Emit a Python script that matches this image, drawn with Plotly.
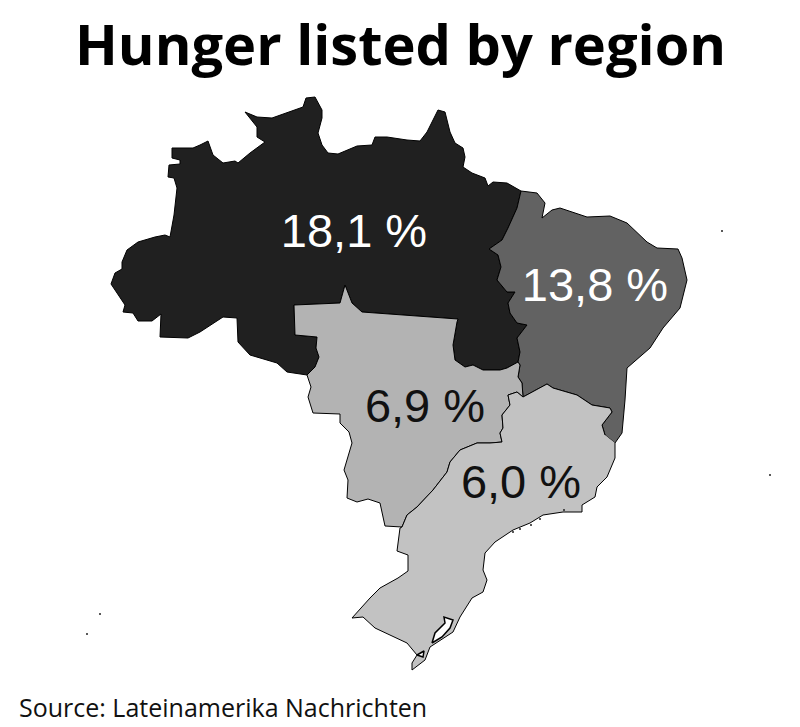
import plotly.graph_objects as go

# outlines, in map units (x right, y down)
region_names = ["North", "Northeast", "Central-West", "Southeast/South"]
region_values = [18.1, 13.8, 6.9, 6.0]

north_outer = [(521,191),(517,208),(508,228),(502,240),(489,249),(498,255),(501,267),(497,280),(507,292),
    (515,292),(508,303),(510,313),(517,323),(527,325),(517,338),(520,352),(518,362)]
north_cw_border = [(518,362),(507,368),(500,370),(483,370),(473,365),(465,367),(455,360),(453,345),(457,322),(458,319),
    (362,312),(352,303),(345,285),(340,303),(294,305),(295,335),(317,337),(316,348),(319,357),(315,367),(307,375)]
north_west = [(287,372),(277,363),(250,355),(238,342),(237,318),(223,317),(200,332),(188,338),(160,337),(161,314),
    (152,321),(138,321),(133,313),(123,312),(125,305),(117,293),(111,284),(115,273),(122,269),(122,262),(127,250),
    (138,242),(155,237),(165,235),(170,237),(174,215),(177,188),(174,178),(168,177),(169,165),(180,164),(180,160),
    (172,158),(172,148),(193,148),(200,145),(208,141),(213,155),(223,163),(235,161),(238,163),(250,153),(265,142),
    (257,137),(257,127),(245,112),(257,117),(272,118),(287,113),(303,107),(306,98),(315,97),(322,110),(322,118),
    (318,133),(322,145),(328,153),(338,154),(357,146),(372,145),(375,137),(387,137),(407,140),(420,141),(427,132),
    (438,110),(445,112),(450,132),(455,143),(463,148),(465,157),(463,167),(472,173),(485,178),(488,186),(493,182),
    (507,183),(521,191)]
northeast_coast = [(537,193),(545,203),(542,218),(552,210),(560,208),(587,217),(610,216),(627,223),(647,242),(657,248),
    (678,249),(682,258),(687,280),(680,308),(663,328),(650,348),(627,368),(625,400),(622,433),(615,443)]
northeast_se_border = [(605,435),(602,425),(612,412),(610,408),(592,405),(577,395),(553,388),(547,384),(523,397)]
ne_cw_border = [(522,383),(518,377),(520,365),(518,362)]
cw_se_border = [(523,397),(517,392),(508,395),(510,405),(502,415),(503,428),(500,433),(502,442),(490,443),(477,443),
    (460,450),(450,462),(447,472),(433,490),(417,507),(407,515),(402,527)]
cw_south = [(385,526),(380,503),(368,499),(357,502),(347,498),(348,480),(344,470),(352,443),(349,432),(340,423),
    (340,414),(313,413),(308,397),(311,387),(307,375)]
se_coast = [(615,458),(607,477),(597,487),(595,497),(582,505),(582,512),(563,512),(543,515),(530,523),(513,530),
    (495,542),(485,553),(483,570),(487,580),(483,592),(472,598),(460,617),(453,632),(437,643),(430,647),(425,660),
    (412,670),(412,663),(417,655),(407,643),(390,635),(375,628),(363,617),(352,618),(370,598),(380,588),(398,578),
    (408,571),(408,555),(397,551),(400,528),(402,527)]
lagoon = [(432,643),(435,633),(445,623),(444,617),(453,620),(450,628),(442,637),(432,643)]
lagoon_small = [(417,655),(424,651),(423,657),(417,655)]
islands_x = [722, 770, 100, 87, 513, 520, 531, 540, 564]
islands_y = [231, 475, 614, 634, 532, 529, 525, 519, 510]

north = north_outer + north_cw_border + north_west
northeast = [(521,191)] + northeast_coast + northeast_se_border + ne_cw_border + north_outer[::-1]
central_west = north_cw_border[::-1] + ne_cw_border[::-1] + cw_se_border + cw_south
southeast = [(615,443)] + se_coast + cw_se_border[::-1] + northeast_se_border[::-1]

region_shapes = [north, northeast, central_west, southeast]
region_colors = ["#202020", "#626262", "#b3b3b3", "#c2c2c2"]
text_colors = ["white", "white", "#111111", "#111111"]
label_x = [354, 595, 425, 521]
label_y = [235, 289, 410, 486]

fig = go.Figure()
for name, shape, color in zip(region_names, region_shapes, region_colors):
    fig.add_trace(go.Scatter(x=[p[0] for p in shape], y=[p[1] for p in shape], name=name, mode="lines",
                             fill="toself", fillcolor=color, line=dict(color="#000000", width=1)))
for water in [lagoon, lagoon_small]:
    fig.add_trace(go.Scatter(x=[p[0] for p in water], y=[p[1] for p in water], mode="lines", fill="toself",
                             fillcolor="white", line=dict(color="#000000", width=1.5)))
fig.add_trace(go.Scatter(x=islands_x, y=islands_y, mode="markers", marker=dict(color="#222222", size=2)))

labels = [f"{v:.1f} %".replace(".", ",") for v in region_values]
fig.add_trace(go.Scatter(x=label_x, y=label_y, mode="text", text=labels, textposition="middle center",
                         textfont=dict(family="Liberation Sans", size=47, color=text_colors)))

fig.add_annotation(x=400, y=43, text="<b>Hunger listed by region</b>", showarrow=False,
                   font=dict(family="Open Sans", size=56, color="black"))
fig.add_annotation(x=17, y=707, text="Source: Lateinamerika Nachrichten", showarrow=False, xanchor="left",
                   font=dict(family="Open Sans", size=25, color="#111111"))

fig.update_xaxes(range=[0, 800], visible=False)
fig.update_yaxes(range=[727, 0], visible=False)
fig.update_layout(width=800, height=727, margin=dict(l=0, r=0, t=0, b=0), showlegend=False,
                  plot_bgcolor="white", paper_bgcolor="white")
fig.write_html("out.html", config={"displayModeBar": False}, post_script="document.body.style.margin='0';")
